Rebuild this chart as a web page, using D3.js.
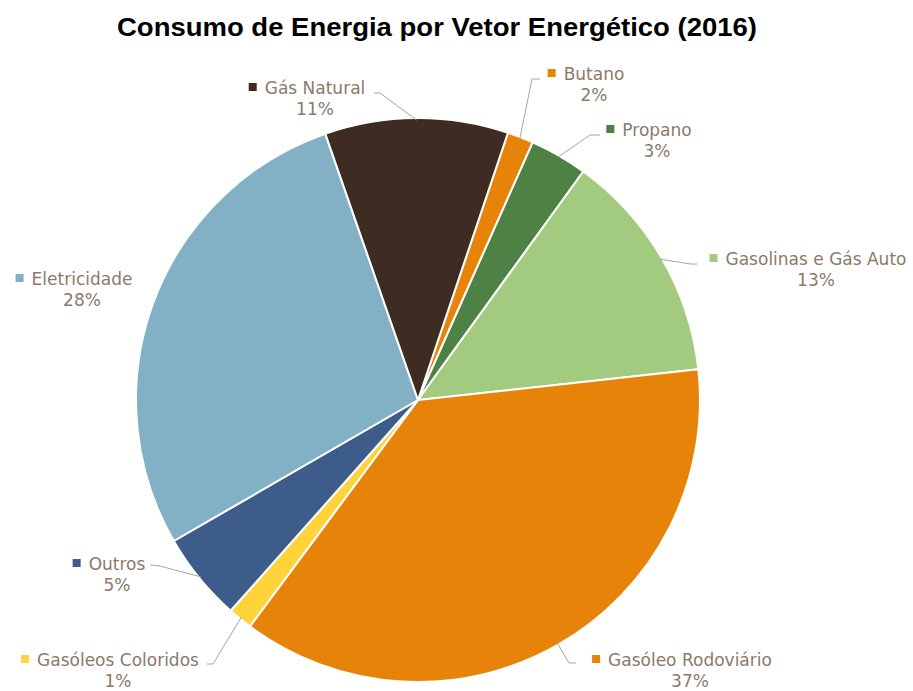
<!DOCTYPE html>
<html lang="pt">
	<head>
		<meta charset="utf-8">
		<title>Consumo de Energia por Vetor Energético (2016)</title>
		<script src="https://d3js.org/d3.v7.min.js"></script>
		<style>
			body { margin: 0; background: #fff; }
		</style>
	</head>
	<body>
		<script type="text/javascript">

			// data (clockwise, starting right of the top)
			var categories = ["Butano", "Propano", "Gasolinas e Gás Auto", "Gasóleo Rodoviário",
				"Gasóleos Coloridos", "Outros", "Eletricidade", "Gás Natural"];
			var shares = [1.5, 3.3, 13.3, 36.9, 1.4, 5.1, 28.0, 10.5];
			var colors = ["#E8830A", "#4E8245", "#A3CB80", "#E8830A",
				"#FFD43B", "#3E5C8A", "#82B1C6", "#3E2C23"];

			// label layout: name centre x, name baseline y, leader elbow, leader end
			var labelLayout = [
				{x: 594, y: 80,  elbow: [532, 79],  end: [540, 79]},
				{x: 657, y: 136, elbow: [590, 135], end: [600, 135]},
				{x: 816, y: 265, elbow: [691, 264], end: [697, 264]},
				{x: 690, y: 666, elbow: [569, 663], end: [576, 663]},
				{x: 118, y: 666, elbow: [213, 664], end: [207, 664]},
				{x: 117, y: 570, elbow: [160, 566], end: [150, 565]},
				{x: 82,  y: 285, elbow: null, end: null},
				{x: 315, y: 94,  elbow: [380, 93],  end: [374, 93]}
			];

			var w = 913;
			var h = 691;
			var cx = 418, cy = 400, r = 282;

			var svg = d3.select("body").append("svg").attr("width", w).attr("height", h);

			svg.append("text")
				.attr("x", 437)
				.attr("y", 36)
				.attr("text-anchor", "middle")
				.attr("font-family", "'Liberation Sans', Arial, sans-serif")
				.attr("font-weight", "bold")
				.attr("font-size", 25)
				.attr("textLength", 640)
				.attr("lengthAdjust", "spacingAndGlyphs")
				.attr("fill", "#000")
				.text("Consumo de Energia por Vetor Energético (2016)");

			var startA = 18.6 * Math.PI / 180;
			var pie = d3.pie().sort(null).value(function(d) { return d; })
				.startAngle(startA).endAngle(startA + 2 * Math.PI);
			var arcs = pie(shares);
			var arc = d3.arc().innerRadius(0).outerRadius(r);

			var g = svg.append("g").attr("transform", "translate(" + cx + "," + cy + ")");
			g.selectAll("path")
				.data(arcs)
				.enter()
				.append("path")
				.attr("d", arc)
				.attr("fill", function(d, i) { return colors[i]; })
				.attr("stroke", "#fff")
				.attr("stroke-width", 2)
				.attr("stroke-linejoin", "round");

			// leader lines
			var total = d3.sum(shares);
			arcs.forEach(function(d, i) {
				var L = labelLayout[i];
				if (!L.elbow) return;
				var mid = (d.startAngle + d.endAngle) / 2;
				var p0 = [cx + (r - 2) * Math.sin(mid), cy - (r - 2) * Math.cos(mid)];
				svg.append("polyline")
					.attr("points", [p0, L.elbow, L.end].map(function(p) { return p.join(","); }).join(" "))
					.attr("fill", "none")
					.attr("stroke", "#A6A6A6")
					.attr("stroke-width", 1);
			});

			// labels
			var textColor = "#8B7A68";
			var labelFont = "'DejaVu Sans', sans-serif";
			arcs.forEach(function(d, i) {
				var L = labelLayout[i];
				var name = svg.append("text")
					.attr("x", L.x)
					.attr("y", L.y)
					.attr("text-anchor", "middle")
					.attr("font-family", labelFont)
					.attr("font-size", 17)
					.attr("fill", textColor)
					.text(categories[i]);
				var bb = name.node().getBBox();
				svg.append("rect")
					.attr("x", bb.x - 16)
					.attr("y", L.y - 11)
					.attr("width", 8)
					.attr("height", 8)
					.attr("fill", colors[i]);
				svg.append("text")
					.attr("x", L.x)
					.attr("y", L.y + 21)
					.attr("text-anchor", "middle")
					.attr("font-family", labelFont)
					.attr("font-size", 17)
					.attr("fill", textColor)
					.text(Math.round(shares[i] / total * 100) + "%");
			});

		</script>
	</body>
</html>
